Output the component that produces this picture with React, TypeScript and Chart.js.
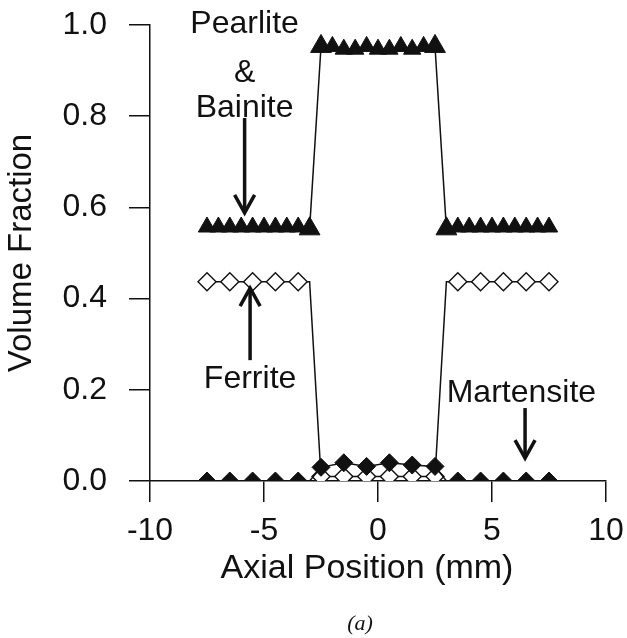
import React, { useEffect, useRef } from "react";
import { Chart, registerables } from "chart.js";

Chart.register(...registerables);

// ---- Data ----
const xTickValues = [-10, -5, 0, 5, 10];
const yTickValues = [0, 0.2, 0.4, 0.6, 0.8, 1.0];

// Pearlite & Bainite (filled triangles)
const pearliteX = [
  -7.5, -7, -6.5, -6, -5.5, -5, -4.5, -4, -3.5, -3,
  -2.5, -2, -1.5, -1, -0.5, 0, 0.5, 1, 1.5, 2, 2.5,
  3, 3.5, 4, 4.5, 5, 5.5, 6, 6.5, 7, 7.5,
];
const pearliteY = [
  0.557, 0.557, 0.557, 0.557, 0.557, 0.557, 0.557, 0.557, 0.557, 0.553,
  0.953, 0.953, 0.947, 0.947, 0.953, 0.947, 0.947, 0.953, 0.947, 0.953, 0.953,
  0.553, 0.557, 0.557, 0.557, 0.557, 0.557, 0.557, 0.557, 0.557, 0.557,
];

// Ferrite (open diamonds)
const ferriteX = [-7.5, -6.5, -5.5, -4.5, -3.5, -3, -2.5, -1.5, -0.5, 0.5, 1.5, 2.5, 3, 3.5, 4.5, 5.5, 6.5, 7.5];
const ferriteY = [0.437, 0.437, 0.437, 0.437, 0.437, 0.437, 0.01, 0.01, 0.01, 0.01, 0.01, 0.01, 0.437, 0.437, 0.437, 0.437, 0.437, 0.437];

// Martensite (filled diamonds)
const martensiteX = [-7.5, -6.5, -5.5, -4.5, -3.5, -3, -2.5, -1.5, -0.5, 0.5, 1.5, 2.5, 3, 3.5, 4.5, 5.5, 6.5, 7.5];
const martensiteY = [0, 0, 0, 0, 0, 0, 0.03, 0.04, 0.032, 0.04, 0.035, 0.032, 0, 0, 0, 0, 0, 0];

// Positions where only the connecting line passes (no marker in the figure)
const unmarkedX = [-3, 3];

const xTitle = "Axial Position (mm)";
const yTitle = "Volume Fraction";

const FONT = '"Liberation Sans", Arial, Helvetica, sans-serif';
const INK = "#111";

function zip(xs: number[], ys: number[]) {
  return xs.map((x, i) => ({ x, y: ys[i] }));
}

const annotationPlugin = {
  id: "annotations",
  afterDatasetsDraw(chart: any) {
    const { ctx, scales, chartArea } = chart;
    const xs = scales.x;
    const ys = scales.y;
    const px = (v: number) => xs.getPixelForValue(v);
    const py = (v: number) => ys.getPixelForValue(v);
    ctx.save();
    ctx.fillStyle = INK;
    ctx.strokeStyle = INK;
    ctx.font = `32px ${FONT}`;
    ctx.textAlign = "center";
    ctx.textBaseline = "alphabetic";
    ctx.fillText("Pearlite", px(-5.85), py(0.982));
    ctx.fillText("&", px(-5.85), py(0.875));
    ctx.fillText("Bainite", px(-5.85), py(0.798));
    ctx.fillText("Ferrite", px(-5.61), py(0.204));
    ctx.fillText("Martensite", px(6.29), py(0.174));

    const arrow = (x: number, yFrom: number, yTo: number) => {
      const X = px(x);
      const Y0 = py(yFrom);
      const Y1 = py(yTo);
      const dir = Y1 > Y0 ? 1 : -1;
      ctx.lineWidth = 3.5;
      ctx.lineCap = "butt";
      ctx.beginPath();
      ctx.moveTo(X, Y0);
      ctx.lineTo(X, Y1 - dir * 2);
      ctx.stroke();
      ctx.beginPath();
      ctx.moveTo(X - 10, Y1 - dir * 18);
      ctx.lineTo(X, Y1);
      ctx.lineTo(X + 10, Y1 - dir * 18);
      ctx.stroke();
    };
    arrow(-5.85, 0.796, 0.588);
    arrow(-5.61, 0.265, 0.423);
    arrow(6.45, 0.16, 0.05);

    // x-axis title (slightly left of the plot centre, as in the figure)
    ctx.font = `34px ${FONT}`;
    ctx.textBaseline = "middle";
    ctx.fillText(xTitle, (chartArea.left + chartArea.right) / 2 - 11, chartArea.bottom + 88);

    ctx.font = `italic 22px "Liberation Serif", "Times New Roman", serif`;
    ctx.textBaseline = "middle";
    ctx.fillText("(a)", (chartArea.left + chartArea.right) / 2 - 18, chart.height - 14);
    ctx.restore();
  },
};

export default function App() {
  const canvasRef = useRef<HTMLCanvasElement | null>(null);

  useEffect(() => {
    document.body.style.margin = "0";
    const canvas = canvasRef.current;
    if (!canvas) return;

    const markerRadius = (base: number) => (c: any) => {
      const p = c.raw;
      if (!p) return base;
      return unmarkedX.includes(p.x) ? 0 : base;
    };

    const zeroPad = (s: any) => {
      s.paddingTop = 0;
      s.paddingBottom = 0;
      s.paddingLeft = 0;
      s.paddingRight = 0;
    };

    const chart = new Chart(canvas, {
      type: "scatter",
      data: {
        datasets: [
          {
            label: "Martensite",
            data: zip(martensiteX, martensiteY),
            showLine: true,
            borderColor: INK,
            borderWidth: 1.5,
            pointStyle: "rectRot",
            pointRadius: markerRadius(9),
            pointBackgroundColor: INK,
            pointBorderColor: INK,
            pointBorderWidth: 1,
          },
          {
            label: "Ferrite",
            data: zip(ferriteX, ferriteY),
            showLine: true,
            borderColor: INK,
            borderWidth: 1.5,
            pointStyle: "rectRot",
            pointRadius: markerRadius(9),
            pointBackgroundColor: "#fff",
            pointBorderColor: INK,
            pointBorderWidth: 1.4,
          },
          {
            label: "Pearlite & Bainite",
            data: zip(pearliteX, pearliteY),
            showLine: true,
            borderColor: INK,
            borderWidth: 1.5,
            pointStyle: "triangle",
            pointRadius: (c: any) => {
              const p = c.raw;
              if (!p) return 10;
              const a = Math.abs(p.x);
              return a >= 2.5 && a <= 3 ? 12 : 10;
            },
            pointBackgroundColor: INK,
            pointBorderColor: INK,
            pointBorderWidth: 1,
          },
        ],
      },
      options: {
        animation: false,
        responsive: false,
        events: [],
        layout: { padding: { top: 25, right: 21, left: 0, bottom: 0 } },
        plugins: { legend: { display: false }, tooltip: { enabled: false } },
        scales: {
          x: {
            type: "linear",
            min: -10,
            max: 10,
            afterFit: (s: any) => {
              s.height = 157;
              zeroPad(s);
            },
            afterBuildTicks: (s: any) => {
              s.ticks = xTickValues.map((v) => ({ value: v }));
            },
            ticks: {
              color: INK,
              font: { family: FONT, size: 32 },
              padding: 10,
              maxRotation: 0,
              callback: (v: any) => String(v),
            },
            grid: {
              drawOnChartArea: false,
              drawTicks: true,
              tickLength: 21,
              color: INK,
              lineWidth: 1.5,
            },
            border: { display: true, color: INK, width: 1.5 },
            title: { display: false },
          },
          y: {
            type: "linear",
            min: 0,
            max: 1,
            afterFit: (s: any) => {
              s.width = 150;
              zeroPad(s);
            },
            afterBuildTicks: (s: any) => {
              s.ticks = yTickValues.map((v) => ({ value: v }));
            },
            ticks: {
              color: INK,
              font: { family: FONT, size: 32 },
              padding: 22,
              callback: (v: any) => Number(v).toFixed(1),
            },
            grid: {
              drawOnChartArea: false,
              drawTicks: true,
              tickLength: 21,
              color: INK,
              lineWidth: 1.5,
            },
            border: { display: true, color: INK, width: 1.5 },
            title: {
              display: true,
              text: yTitle,
              color: INK,
              font: { family: FONT, size: 33 },
              padding: { top: 2, bottom: 0 },
            },
          },
        },
      },
      plugins: [annotationPlugin],
    } as any);

    return () => chart.destroy();
  }, []);

  return (
    <div style={{ width: 627, height: 638, background: "#fff" }}>
      <canvas ref={canvasRef} width={627} height={638} style={{ display: "block" }} />
    </div>
  );
}
